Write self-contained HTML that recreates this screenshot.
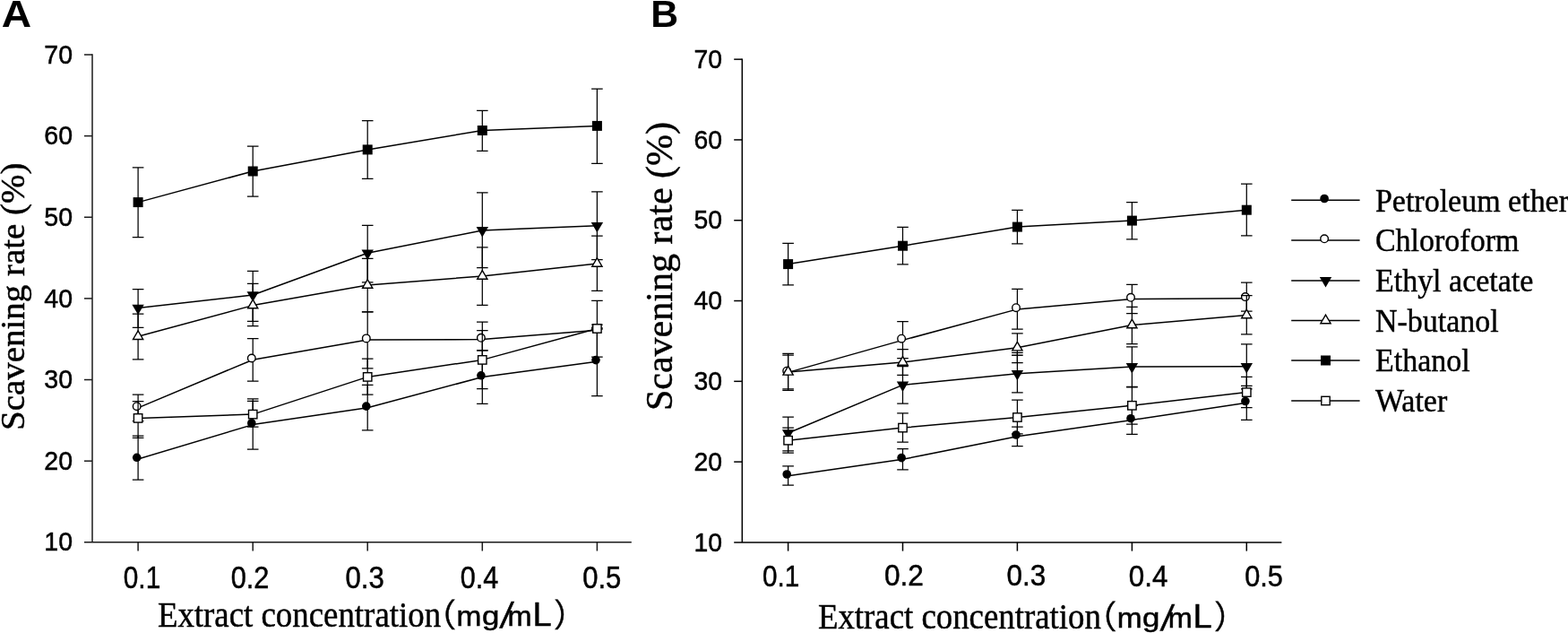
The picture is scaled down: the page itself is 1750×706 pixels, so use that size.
<!DOCTYPE html><html><head><meta charset="utf-8"><title>Scavenging rate of extracts</title>
<style>html,body{margin:0;padding:0;background:#fff;}body{width:1750px;height:706px;overflow:hidden;}svg{display:block;}text{fill:#000;}</style></head><body>
<svg width="1750" height="706" viewBox="0 0 1750 706">
<rect width="1750" height="706" fill="#fff"/>
<text transform="translate(1.82 29.8) scale(1.0832 1)" font-family="'Liberation Sans', Arial, sans-serif" font-size="42.63" font-weight="bold">A</text>
<text transform="translate(726.27 30) scale(1.0114 1)" font-family="'Liberation Sans', Arial, sans-serif" font-size="42.2" font-weight="bold">B</text>
<g stroke="#1a1a1a" stroke-width="1.5" fill="none" stroke-linecap="butt">
<path d="M103 60.3V604.8"/>
<path d="M94 604.8H704.8"/>
<path d="M94 514.17H103"/>
<path d="M94 423.53H103"/>
<path d="M94 332.9H103"/>
<path d="M94 242.27H103"/>
<path d="M94 151.63H103"/>
<path d="M94 61H103"/>
<path d="M154.1 604.8V614.5"/>
<path d="M282.2 604.8V614.5"/>
<path d="M410.2 604.8V614.5"/>
<path d="M538.3 604.8V614.5"/>
<path d="M666.4 604.8V614.5"/>
</g>
<text transform="translate(49.35 614.4) scale(0.9622 1)" font-family="'Liberation Sans', Arial, sans-serif" font-size="29.66" stroke="#000" stroke-width="0.5">10</text>
<text transform="translate(49.35 523.76) scale(0.9622 1)" font-family="'Liberation Sans', Arial, sans-serif" font-size="29.66" stroke="#000" stroke-width="0.5">20</text>
<text transform="translate(49.35 433.13) scale(0.9622 1)" font-family="'Liberation Sans', Arial, sans-serif" font-size="29.66" stroke="#000" stroke-width="0.5">30</text>
<text transform="translate(49.35 342.5) scale(0.9622 1)" font-family="'Liberation Sans', Arial, sans-serif" font-size="29.66" stroke="#000" stroke-width="0.5">40</text>
<text transform="translate(49.35 251.88) scale(0.9622 1)" font-family="'Liberation Sans', Arial, sans-serif" font-size="29.66" stroke="#000" stroke-width="0.5">50</text>
<text transform="translate(49.35 161.22) scale(0.9622 1)" font-family="'Liberation Sans', Arial, sans-serif" font-size="29.66" stroke="#000" stroke-width="0.5">60</text>
<text transform="translate(49.35 70.6) scale(0.9622 1)" font-family="'Liberation Sans', Arial, sans-serif" font-size="29.66" stroke="#000" stroke-width="0.5">70</text>
<text transform="translate(137.78 656.3) scale(0.8617 1)" font-family="'Liberation Sans', Arial, sans-serif" font-size="34.6" stroke="#000" stroke-width="0.5">0.1</text>
<text transform="translate(257.73 656.28) scale(0.8861 1)" font-family="'Liberation Sans', Arial, sans-serif" font-size="34.71" stroke="#000" stroke-width="0.5">0.2</text>
<text transform="translate(385.51 656.28) scale(0.8989 1)" font-family="'Liberation Sans', Arial, sans-serif" font-size="34.67" stroke="#000" stroke-width="0.5">0.3</text>
<text transform="translate(513.85 656.3) scale(0.8844 1)" font-family="'Liberation Sans', Arial, sans-serif" font-size="34.6" stroke="#000" stroke-width="0.5">0.4</text>
<text transform="translate(650.24 656.3) scale(0.8969 1)" font-family="'Liberation Sans', Arial, sans-serif" font-size="34.6" stroke="#000" stroke-width="0.5">0.5</text>
<text transform="translate(26.5 479.92) rotate(-90)" font-family="'Liberation Serif', 'Times New Roman', serif" font-size="38.95" stroke="#000" stroke-width="0.45">Scavening rate (%)</text>
<text transform="translate(175.89 698.9) scale(0.9008 1)" font-family="'Liberation Serif', 'Times New Roman', serif" font-size="40.93" stroke="#000" stroke-width="0.45">Extract concentration</text>
<text transform="translate(490.08 698.57) scale(0.9805 1)" font-family="'Liberation Sans', 'IPAPGothic', 'IPAGothic', sans-serif" font-size="37.23" stroke="#000" stroke-width="0.5">（</text>
<text transform="translate(509.58 697.6) scale(1.0753 1)" font-family="'Liberation Sans', 'IPAPGothic', 'IPAGothic', sans-serif" font-size="31.14" stroke="#000" stroke-width="0.5">m</text>
<text transform="translate(537.99 696.6) scale(1.2046 1)" font-family="'Liberation Sans', 'IPAPGothic', 'IPAGothic', sans-serif" font-size="28.96" stroke="#000" stroke-width="0.5">g</text>
<text transform="translate(557.62 700.2) skewX(-10.23)" font-family="'Liberation Sans', 'IPAPGothic', 'IPAGothic', sans-serif" font-size="39.93" stroke="#000" stroke-width="0.5">/</text>
<text transform="translate(566.55 697.6) scale(1.0433 1)" font-family="'Liberation Sans', 'IPAPGothic', 'IPAGothic', sans-serif" font-size="31.14" stroke="#000" stroke-width="0.5">m</text>
<text transform="translate(594.38 697.9) scale(1.0369 1)" font-family="'Liberation Sans', 'IPAPGothic', 'IPAGothic', sans-serif" font-size="36.7" stroke="#000" stroke-width="0.5">L</text>
<text transform="translate(616.95 698.57) scale(0.9387 1)" font-family="'Liberation Sans', 'IPAPGothic', 'IPAGothic', sans-serif" font-size="37.23" stroke="#000" stroke-width="0.5">）</text>
<path d="M154.1 512L282.2 473.6L410.2 454.8L538.3 420.5L666.4 403.3" fill="none" stroke="#000" stroke-width="1.5" stroke-linejoin="round"/>
<path d="M154.1 486.1V535.2M147.8 486.1H160.4M147.8 535.2H160.4M282.2 444.8V501M275.9 444.8H288.5M275.9 501H288.5M410.2 429.3V479.8M403.9 429.3H416.5M403.9 479.8H416.5M538.3 390.9V450.3M532 390.9H544.6M532 450.3H544.6M666.4 362V441.6M660.1 362H672.7M660.1 441.6H672.7" fill="none" stroke="#000" stroke-width="1.25"/>
<circle cx="152.7" cy="510.3" r="4.8" fill="#000"/>
<circle cx="280.8" cy="471.9" r="4.8" fill="#000"/>
<circle cx="408.8" cy="453.1" r="4.8" fill="#000"/>
<circle cx="536.9" cy="418.8" r="4.8" fill="#000"/>
<circle cx="665" cy="401.6" r="4.8" fill="#000"/>
<path d="M154.1 454.9L282.2 401.2L410.2 379.1L538.3 378.5L666.4 368.2" fill="none" stroke="#000" stroke-width="1.5" stroke-linejoin="round"/>
<path d="M154.1 440.2V469.7M147.8 440.2H160.4M147.8 469.7H160.4M282.2 377.5V425M275.9 377.5H288.5M275.9 425H288.5M410.2 347.9V410.9M403.9 347.9H416.5M403.9 410.9H416.5M538.3 359.2V390.9M532 359.2H544.6M532 390.9H544.6M666.4 365.9V367M660.1 365.9H672.7M660.1 367H672.7" fill="none" stroke="#000" stroke-width="1.25"/>
<circle cx="152.7" cy="453.2" r="4.3" fill="#fff" stroke="#000" stroke-width="1.4"/>
<circle cx="280.8" cy="399.5" r="4.3" fill="#fff" stroke="#000" stroke-width="1.4"/>
<circle cx="408.8" cy="377.4" r="4.3" fill="#fff" stroke="#000" stroke-width="1.4"/>
<circle cx="536.9" cy="376.8" r="4.3" fill="#fff" stroke="#000" stroke-width="1.4"/>
<circle cx="665" cy="366.5" r="4.3" fill="#fff" stroke="#000" stroke-width="1.4"/>
<path d="M154.1 343.5L282.2 329L410.2 282.3L538.3 256.9L666.4 251.7" fill="none" stroke="#000" stroke-width="1.5" stroke-linejoin="round"/>
<path d="M154.1 322.5V365.4M147.8 322.5H160.4M147.8 365.4H160.4M282.2 302.3V358.3M275.9 302.3H288.5M275.9 358.3H288.5M410.2 251.3V314.9M403.9 251.3H416.5M403.9 314.9H416.5M538.3 214.9V298.6M532 214.9H544.6M532 298.6H544.6M666.4 213.9V289.5M660.1 213.9H672.7M660.1 289.5H672.7" fill="none" stroke="#000" stroke-width="1.25"/>
<path d="M147.4 339.7L160.8 339.7L154.1 351.1Z" fill="#000"/>
<path d="M275.5 325.2L288.9 325.2L282.2 336.6Z" fill="#000"/>
<path d="M403.5 278.5L416.9 278.5L410.2 289.9Z" fill="#000"/>
<path d="M531.6 253.1L545 253.1L538.3 264.5Z" fill="#000"/>
<path d="M659.7 247.9L673.1 247.9L666.4 259.3Z" fill="#000"/>
<path d="M154.1 375.3L282.2 340.6L410.2 318L538.3 308L666.4 294" fill="none" stroke="#000" stroke-width="1.5" stroke-linejoin="round"/>
<path d="M154.1 350.1V400.9M147.8 350.1H160.4M147.8 400.9H160.4M282.2 316.3V363.7M275.9 316.3H288.5M275.9 363.7H288.5M410.2 288.4V347.9M403.9 288.4H416.5M403.9 347.9H416.5M538.3 275.8V340.4M532 275.8H544.6M532 340.4H544.6M666.4 263V324.4M660.1 263H672.7M660.1 324.4H672.7" fill="none" stroke="#000" stroke-width="1.25"/>
<path d="M148.5 378.5L159.7 378.5L154.1 368.9Z" fill="#fff" stroke="#000" stroke-width="1.4" stroke-linejoin="miter"/>
<path d="M276.6 343.8L287.8 343.8L282.2 334.2Z" fill="#fff" stroke="#000" stroke-width="1.4" stroke-linejoin="miter"/>
<path d="M404.6 321.2L415.8 321.2L410.2 311.6Z" fill="#fff" stroke="#000" stroke-width="1.4" stroke-linejoin="miter"/>
<path d="M532.7 311.2L543.9 311.2L538.3 301.6Z" fill="#fff" stroke="#000" stroke-width="1.4" stroke-linejoin="miter"/>
<path d="M660.8 297.2L672 297.2L666.4 287.6Z" fill="#fff" stroke="#000" stroke-width="1.4" stroke-linejoin="miter"/>
<path d="M154.1 225.6L282.2 191L410.2 166.9L538.3 145.5L666.4 140.4" fill="none" stroke="#000" stroke-width="1.5" stroke-linejoin="round"/>
<path d="M154.1 186.9V264.5M147.8 186.9H160.4M147.8 264.5H160.4M282.2 163.1V219.1M275.9 163.1H288.5M275.9 219.1H288.5M410.2 134.5V199.4M403.9 134.5H416.5M403.9 199.4H416.5M538.3 123.4V168.3M532 123.4H544.6M532 168.3H544.6M666.4 99.2V182.4M660.1 99.2H672.7M660.1 182.4H672.7" fill="none" stroke="#000" stroke-width="1.25"/>
<rect x="148.6" y="220.1" width="11" height="11" fill="#000"/>
<rect x="276.7" y="185.5" width="11" height="11" fill="#000"/>
<rect x="404.7" y="161.4" width="11" height="11" fill="#000"/>
<rect x="532.8" y="140" width="11" height="11" fill="#000"/>
<rect x="660.9" y="134.9" width="11" height="11" fill="#000"/>
<path d="M154.1 466.4L282.2 462.1L410.2 420.4L538.3 401.4L666.4 366.5" fill="none" stroke="#000" stroke-width="1.5" stroke-linejoin="round"/>
<path d="M154.1 447.6V488.4M147.8 447.6H160.4M147.8 488.4H160.4M282.2 447.3V476M275.9 447.3H288.5M275.9 476H288.5M410.2 400.2V440.2M403.9 400.2H416.5M403.9 440.2H416.5M538.3 368.7V433.7M532 368.7H544.6M532 433.7H544.6M666.4 335.4V398.2M660.1 335.4H672.7M660.1 398.2H672.7" fill="none" stroke="#000" stroke-width="1.25"/>
<rect x="149.4" y="461.7" width="9.4" height="9.4" fill="#fff" stroke="#000" stroke-width="1.4"/>
<rect x="277.5" y="457.4" width="9.4" height="9.4" fill="#fff" stroke="#000" stroke-width="1.4"/>
<rect x="405.5" y="415.7" width="9.4" height="9.4" fill="#fff" stroke="#000" stroke-width="1.4"/>
<rect x="533.6" y="396.7" width="9.4" height="9.4" fill="#fff" stroke="#000" stroke-width="1.4"/>
<rect x="661.7" y="361.8" width="9.4" height="9.4" fill="#fff" stroke="#000" stroke-width="1.4"/>
<g stroke="#000" stroke-width="1.5" fill="none" stroke-linecap="butt">
<path d="M828.3 65.45V604.9"/>
<path d="M819.2 604.9H1430.4"/>
<path d="M819.2 515.11H828.3"/>
<path d="M819.2 425.32H828.3"/>
<path d="M819.2 335.52H828.3"/>
<path d="M819.2 245.73H828.3"/>
<path d="M819.2 155.94H828.3"/>
<path d="M819.2 66.15H828.3"/>
<path d="M879.6 604.9V614.6"/>
<path d="M1007.5 604.9V614.6"/>
<path d="M1135.4 604.9V614.6"/>
<path d="M1263.4 604.9V614.6"/>
<path d="M1391.3 604.9V614.6"/>
</g>
<text transform="translate(774.56 614.6) scale(0.9558 1)" font-family="'Liberation Sans', Arial, sans-serif" font-size="29.66" stroke="#000" stroke-width="0.5">10</text>
<text transform="translate(774.56 524.8) scale(0.9558 1)" font-family="'Liberation Sans', Arial, sans-serif" font-size="29.66" stroke="#000" stroke-width="0.5">20</text>
<text transform="translate(774.56 435.01) scale(0.9558 1)" font-family="'Liberation Sans', Arial, sans-serif" font-size="29.66" stroke="#000" stroke-width="0.5">30</text>
<text transform="translate(774.56 345.22) scale(0.9558 1)" font-family="'Liberation Sans', Arial, sans-serif" font-size="29.66" stroke="#000" stroke-width="0.5">40</text>
<text transform="translate(774.56 255.45) scale(0.9558 1)" font-family="'Liberation Sans', Arial, sans-serif" font-size="29.66" stroke="#000" stroke-width="0.5">50</text>
<text transform="translate(774.56 165.63) scale(0.9558 1)" font-family="'Liberation Sans', Arial, sans-serif" font-size="29.66" stroke="#000" stroke-width="0.5">60</text>
<text transform="translate(774.56 75.85) scale(0.9558 1)" font-family="'Liberation Sans', Arial, sans-serif" font-size="29.66" stroke="#000" stroke-width="0.5">70</text>
<text transform="translate(850.88 653.5) scale(0.8895 1)" font-family="'Liberation Sans', Arial, sans-serif" font-size="33.43" stroke="#000" stroke-width="0.5">0.1</text>
<text transform="translate(986.91 653.48) scale(0.9427 1)" font-family="'Liberation Sans', Arial, sans-serif" font-size="33.54" stroke="#000" stroke-width="0.5">0.2</text>
<text transform="translate(1123.41 653.48) scale(0.9387 1)" font-family="'Liberation Sans', Arial, sans-serif" font-size="33.51" stroke="#000" stroke-width="0.5">0.3</text>
<text transform="translate(1259.82 653.5) scale(0.9361 1)" font-family="'Liberation Sans', Arial, sans-serif" font-size="33.43" stroke="#000" stroke-width="0.5">0.4</text>
<text transform="translate(1389.14 653.5) scale(0.9186 1)" font-family="'Liberation Sans', Arial, sans-serif" font-size="33.43" stroke="#000" stroke-width="0.5">0.5</text>
<text transform="translate(749.9 458.12) rotate(-90)" font-family="'Liberation Serif', 'Times New Roman', serif" font-size="42.05" stroke="#000" stroke-width="0.45">Scavening rate (%)</text>
<text transform="translate(912.88 700.9) scale(0.9428 1)" font-family="'Liberation Serif', 'Times New Roman', serif" font-size="39.08" stroke="#000" stroke-width="0.45">Extract concentration</text>
<text transform="translate(1227.18 700.97) scale(0.9805 1)" font-family="'Liberation Sans', 'IPAPGothic', 'IPAGothic', sans-serif" font-size="37.23" stroke="#000" stroke-width="0.5">（</text>
<text transform="translate(1246.68 700) scale(1.0753 1)" font-family="'Liberation Sans', 'IPAPGothic', 'IPAGothic', sans-serif" font-size="31.14" stroke="#000" stroke-width="0.5">m</text>
<text transform="translate(1275.09 699) scale(1.2046 1)" font-family="'Liberation Sans', 'IPAPGothic', 'IPAGothic', sans-serif" font-size="28.96" stroke="#000" stroke-width="0.5">g</text>
<text transform="translate(1294.72 702.6) skewX(-10.23)" font-family="'Liberation Sans', 'IPAPGothic', 'IPAGothic', sans-serif" font-size="39.93" stroke="#000" stroke-width="0.5">/</text>
<text transform="translate(1303.65 700) scale(1.0433 1)" font-family="'Liberation Sans', 'IPAPGothic', 'IPAGothic', sans-serif" font-size="31.14" stroke="#000" stroke-width="0.5">m</text>
<text transform="translate(1331.48 700.3) scale(1.0369 1)" font-family="'Liberation Sans', 'IPAPGothic', 'IPAGothic', sans-serif" font-size="36.7" stroke="#000" stroke-width="0.5">L</text>
<text transform="translate(1354.05 700.97) scale(0.9387 1)" font-family="'Liberation Sans', 'IPAPGothic', 'IPAGothic', sans-serif" font-size="37.23" stroke="#000" stroke-width="0.5">）</text>
<path d="M879.6 530.7L1007.5 512.3L1135.4 486.7L1263.4 468.4L1391.3 449.2" fill="none" stroke="#000" stroke-width="1.5" stroke-linejoin="round"/>
<path d="M879.6 519.8V541.2M873.3 519.8H885.9M873.3 541.2H885.9M1007.5 500.7V523.9M1001.2 500.7H1013.8M1001.2 523.9H1013.8M1135.4 476.1V497.7M1129.1 476.1H1141.7M1129.1 497.7H1141.7M1263.4 452.3V484.4M1257.1 452.3H1269.7M1257.1 484.4H1269.7M1391.3 430.3V468.3M1385 430.3H1397.6M1385 468.3H1397.6" fill="none" stroke="#000" stroke-width="1.25"/>
<circle cx="878.2" cy="529" r="4.8" fill="#000"/>
<circle cx="1006.1" cy="510.6" r="4.8" fill="#000"/>
<circle cx="1134" cy="485" r="4.8" fill="#000"/>
<circle cx="1262" cy="466.7" r="4.8" fill="#000"/>
<circle cx="1389.9" cy="447.5" r="4.8" fill="#000"/>
<path d="M879.6 415.4L1007.5 379.4L1135.4 344.9L1263.4 333.5L1391.3 332.8" fill="none" stroke="#000" stroke-width="1.5" stroke-linejoin="round"/>
<path d="M879.6 396.2V433.9M873.3 396.2H885.9M873.3 433.9H885.9M1007.5 358.5V399.5M1001.2 358.5H1013.8M1001.2 399.5H1013.8M1135.4 322.4V367.1M1129.1 322.4H1141.7M1129.1 367.1H1141.7M1263.4 317.3V349.6M1257.1 317.3H1269.7M1257.1 349.6H1269.7M1391.3 315.2V347M1385 315.2H1397.6M1385 347H1397.6" fill="none" stroke="#000" stroke-width="1.25"/>
<circle cx="878.2" cy="413.7" r="4.3" fill="#fff" stroke="#000" stroke-width="1.4"/>
<circle cx="1006.1" cy="377.7" r="4.3" fill="#fff" stroke="#000" stroke-width="1.4"/>
<circle cx="1134" cy="343.2" r="4.3" fill="#fff" stroke="#000" stroke-width="1.4"/>
<circle cx="1262" cy="331.8" r="4.3" fill="#fff" stroke="#000" stroke-width="1.4"/>
<circle cx="1389.9" cy="331.1" r="4.3" fill="#fff" stroke="#000" stroke-width="1.4"/>
<path d="M879.6 483L1007.5 429.4L1135.4 416.7L1263.4 408.9L1391.3 408.8" fill="none" stroke="#000" stroke-width="1.5" stroke-linejoin="round"/>
<path d="M879.6 465.1V502.8M873.3 465.1H885.9M873.3 502.8H885.9M1007.5 408.6V450M1001.2 408.6H1013.8M1001.2 450H1013.8M1135.4 393.3V437.8M1129.1 393.3H1141.7M1129.1 437.8H1141.7M1263.4 386.8V431.4M1257.1 386.8H1269.7M1257.1 431.4H1269.7M1391.3 383.8V433.8M1385 383.8H1397.6M1385 433.8H1397.6" fill="none" stroke="#000" stroke-width="1.25"/>
<path d="M872.9 479.2L886.3 479.2L879.6 490.6Z" fill="#000"/>
<path d="M1000.8 425.6L1014.2 425.6L1007.5 437Z" fill="#000"/>
<path d="M1128.7 412.9L1142.1 412.9L1135.4 424.3Z" fill="#000"/>
<path d="M1256.7 405.1L1270.1 405.1L1263.4 416.5Z" fill="#000"/>
<path d="M1384.6 405L1398 405L1391.3 416.4Z" fill="#000"/>
<path d="M879.6 414.9L1007.5 404L1135.4 387.7L1263.4 362.6L1391.3 351.5" fill="none" stroke="#000" stroke-width="1.5" stroke-linejoin="round"/>
<path d="M879.6 394.3V435.4M873.3 394.3H885.9M873.3 435.4H885.9M1007.5 389.6V418.3M1001.2 389.6H1013.8M1001.2 418.3H1013.8M1135.4 371.9V404.6M1129.1 371.9H1141.7M1129.1 404.6H1141.7M1263.4 342.3V383.7M1257.1 342.3H1269.7M1257.1 383.7H1269.7M1391.3 329.7V372.9M1385 329.7H1397.6M1385 372.9H1397.6" fill="none" stroke="#000" stroke-width="1.25"/>
<path d="M874 418.1L885.2 418.1L879.6 408.5Z" fill="#fff" stroke="#000" stroke-width="1.4" stroke-linejoin="miter"/>
<path d="M1001.9 407.2L1013.1 407.2L1007.5 397.6Z" fill="#fff" stroke="#000" stroke-width="1.4" stroke-linejoin="miter"/>
<path d="M1129.8 390.9L1141 390.9L1135.4 381.3Z" fill="#fff" stroke="#000" stroke-width="1.4" stroke-linejoin="miter"/>
<path d="M1257.8 365.8L1269 365.8L1263.4 356.2Z" fill="#fff" stroke="#000" stroke-width="1.4" stroke-linejoin="miter"/>
<path d="M1385.7 354.7L1396.9 354.7L1391.3 345.1Z" fill="#fff" stroke="#000" stroke-width="1.4" stroke-linejoin="miter"/>
<path d="M879.6 294.6L1007.5 274.2L1135.4 253.1L1263.4 246.1L1391.3 234.2" fill="none" stroke="#000" stroke-width="1.5" stroke-linejoin="round"/>
<path d="M879.6 271.4V317.9M873.3 271.4H885.9M873.3 317.9H885.9M1007.5 253.4V294.8M1001.2 253.4H1013.8M1001.2 294.8H1013.8M1135.4 234.3V271.9M1129.1 234.3H1141.7M1129.1 271.9H1141.7M1263.4 225.7V266.9M1257.1 225.7H1269.7M1257.1 266.9H1269.7M1391.3 205.2V262.9M1385 205.2H1397.6M1385 262.9H1397.6" fill="none" stroke="#000" stroke-width="1.25"/>
<rect x="874.1" y="289.1" width="11" height="11" fill="#000"/>
<rect x="1002" y="268.7" width="11" height="11" fill="#000"/>
<rect x="1129.9" y="247.6" width="11" height="11" fill="#000"/>
<rect x="1257.9" y="240.6" width="11" height="11" fill="#000"/>
<rect x="1385.8" y="228.7" width="11" height="11" fill="#000"/>
<path d="M879.6 491.2L1007.5 477.1L1135.4 465.5L1263.4 452.3L1391.3 437.6" fill="none" stroke="#000" stroke-width="1.5" stroke-linejoin="round"/>
<path d="M879.6 477V505.1M873.3 477H885.9M873.3 505.1H885.9M1007.5 460.9V493M1001.2 460.9H1013.8M1001.2 493H1013.8M1135.4 446.2V483.9M1129.1 446.2H1141.7M1129.1 483.9H1141.7M1263.4 431.9V473.1M1257.1 431.9H1269.7M1257.1 473.1H1269.7M1391.3 420.4V454.5M1385 420.4H1397.6M1385 454.5H1397.6" fill="none" stroke="#000" stroke-width="1.25"/>
<rect x="874.9" y="486.5" width="9.4" height="9.4" fill="#fff" stroke="#000" stroke-width="1.4"/>
<rect x="1002.8" y="472.4" width="9.4" height="9.4" fill="#fff" stroke="#000" stroke-width="1.4"/>
<rect x="1130.7" y="460.8" width="9.4" height="9.4" fill="#fff" stroke="#000" stroke-width="1.4"/>
<rect x="1258.7" y="447.6" width="9.4" height="9.4" fill="#fff" stroke="#000" stroke-width="1.4"/>
<rect x="1386.6" y="432.9" width="9.4" height="9.4" fill="#fff" stroke="#000" stroke-width="1.4"/>
<path d="M1129.1 396.2H1141.7" stroke="#000" stroke-width="1.5"/>
<path d="M1441.2 223.2H1517.6" stroke="#000" stroke-width="1.5"/>
<circle cx="1478.1" cy="221.5" r="4.8" fill="#000"/>
<text transform="translate(1534.95 235.6) scale(0.9432 1)" font-family="'Liberation Serif', 'Times New Roman', serif" font-size="36.04" stroke="#000" stroke-width="0.45">Petroleum ether</text>
<path d="M1441.2 268H1517.6" stroke="#000" stroke-width="1.5"/>
<circle cx="1478.1" cy="266.3" r="4.3" fill="#fff" stroke="#000" stroke-width="1.4"/>
<text transform="translate(1534.95 280.4) scale(0.9432 1)" font-family="'Liberation Serif', 'Times New Roman', serif" font-size="36.04" stroke="#000" stroke-width="0.45">Chloroform</text>
<path d="M1441.2 312.9H1517.6" stroke="#000" stroke-width="1.5"/>
<path d="M1472.8 309.1L1486.2 309.1L1479.5 320.5Z" fill="#000"/>
<text transform="translate(1534.95 325.3) scale(0.9432 1)" font-family="'Liberation Serif', 'Times New Roman', serif" font-size="36.04" stroke="#000" stroke-width="0.45">Ethyl acetate</text>
<path d="M1441.2 357.5H1517.6" stroke="#000" stroke-width="1.5"/>
<path d="M1473.9 360.7L1485.1 360.7L1479.5 351.1Z" fill="#fff" stroke="#000" stroke-width="1.4" stroke-linejoin="miter"/>
<text transform="translate(1534.95 369.9) scale(0.9432 1)" font-family="'Liberation Serif', 'Times New Roman', serif" font-size="36.04" stroke="#000" stroke-width="0.45">N-butanol</text>
<path d="M1441.2 402H1517.6" stroke="#000" stroke-width="1.5"/>
<rect x="1474" y="396.5" width="11" height="11" fill="#000"/>
<text transform="translate(1534.95 414.4) scale(0.9432 1)" font-family="'Liberation Serif', 'Times New Roman', serif" font-size="36.04" stroke="#000" stroke-width="0.45">Ethanol</text>
<path d="M1441.2 447H1517.6" stroke="#000" stroke-width="1.5"/>
<rect x="1474.8" y="442.3" width="9.4" height="9.4" fill="#fff" stroke="#000" stroke-width="1.4"/>
<text transform="translate(1534.95 459.4) scale(0.9432 1)" font-family="'Liberation Serif', 'Times New Roman', serif" font-size="36.04" stroke="#000" stroke-width="0.45">Water</text>
</svg></body></html>
